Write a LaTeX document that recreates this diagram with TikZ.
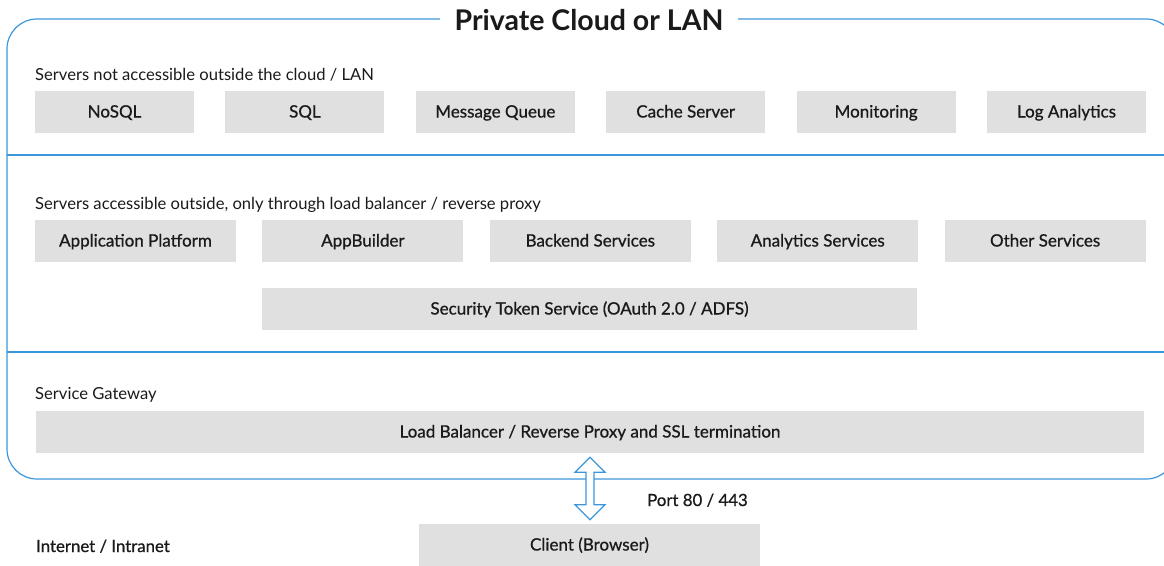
\documentclass[tikz,border=0pt]{standalone}
\usepackage{fontspec}
\setmainfont{Lato}
\newfontface\medfont{Lato}[FakeBold=0.8]
\usetikzlibrary{calc,positioning}
\definecolor{cloudblue}{RGB}{60,150,220}
\definecolor{boxgray}{RGB}{224,224,224}
\definecolor{ink}{RGB}{26,26,26}
\tikzset{
  box/.style={fill=boxgray, minimum height=42pt, inner sep=0pt, text height=1.1em, text depth=0em, text=ink, font=\fontsize{17}{20}\medfont},
  lbl/.style={anchor=base west, inner sep=0pt, text=ink, font=\fontsize{16.6}{20}\selectfont},
  cloudline/.style={draw=cloudblue, line width=1.2pt},
  port/.style={draw=cloudblue, line width=1.2pt, fill=white, line join=miter}
}

\begin{document}
\begin{tikzpicture}[x=1pt, y=-1pt]
			%%%%% START %%%%%
			\useasboundingbox (0, 0) rectangle (1164, 565);
			
			\draw[cloudline, rounded corners=30pt] (7, 19) rectangle (1176, 479);
			\draw[cloudline] (7, 155) -- (1176, 155);
			\draw[cloudline] (7, 352) -- (1176, 352);
			\node[fill=white, inner xsep=15pt, inner ysep=2pt, text=ink, font=\fontsize{28.5}{32}\bfseries] (title) at (589, 20) {Private Cloud or LAN};
			
			% servers inside the cloud
			\node[lbl] (inner) at (35, 80) {Servers not accessible outside the cloud / LAN};
			\node[box, minimum width=159pt] (nosql) at (114.5, 112) {NoSQL};
			\node[box, minimum width=159pt, right=31pt of nosql] (sql) {SQL};
			\node[box, minimum width=159pt, right=31pt of sql] (mq) {Message Queue};
			\node[box, minimum width=159pt, right=31pt of mq] (cache) {Cache Server};
			\node[box, minimum width=159pt, right=31pt of cache] (mon) {Monitoring};
			\node[box, minimum width=159pt, right=31pt of mon] (log) {Log Analytics};
			
			% servers behind the proxy
			\node[lbl] (outer) at (35, 209) {Servers accessible outside, only through load balancer / reverse proxy};
			\node[box, minimum width=201pt] (app) at (135.5, 241) {Application Platform};
			\node[box, minimum width=201pt, right=26pt of app] (builder) {AppBuilder};
			\node[box, minimum width=201pt, right=26pt of builder] (backend) {Backend Services};
			\node[box, minimum width=201pt, right=26pt of backend] (analytics) {Analytics Services};
			\node[box, minimum width=201pt, right=26pt of analytics] (other) {Other Services};
			\node[box, minimum width=655pt] (sts) at (589.5, 309) {Security Token Service (OAuth 2.0 / ADFS)};
			
			% gateway
			\node[lbl] (gw) at (35, 399) {Service Gateway};
			\node[box, minimum width=1108pt] (lb) at (590, 432) {Load Balancer / Reverse Proxy and SSL termination};
			
			% outside
			\node[box, minimum width=341pt] (client) at (589.5, 545) {Client (Browser)};
			\node[lbl, font=\fontsize{16.8}{20}\medfont] (net) at (36, 552) {Internet / Intranet};
			\node[lbl, font=\fontsize{16.8}{20}\medfont] (portlbl) at (647, 506) {Port 80 / 443};
			
			\draw[port] let \p1=($(lb.south)+(0, 4)$), \p2=($(client.north)+(0, -4)$) in
			  (\x1, \y1) -- (\x1+15, \y1-15) -- (\x1+4, \y1-15) -- (\x1+4, \y2+15) -- (\x1+15, \y2+15)
			  -- (\x1, \y2) -- (\x1-15, \y2+15) -- (\x1-4, \y2+15) -- (\x1-4, \y1-15) -- (\x1-15, \y1-15) -- cycle;
			
			%%%%% END %%%%%
		\end{tikzpicture}
\end{document}
